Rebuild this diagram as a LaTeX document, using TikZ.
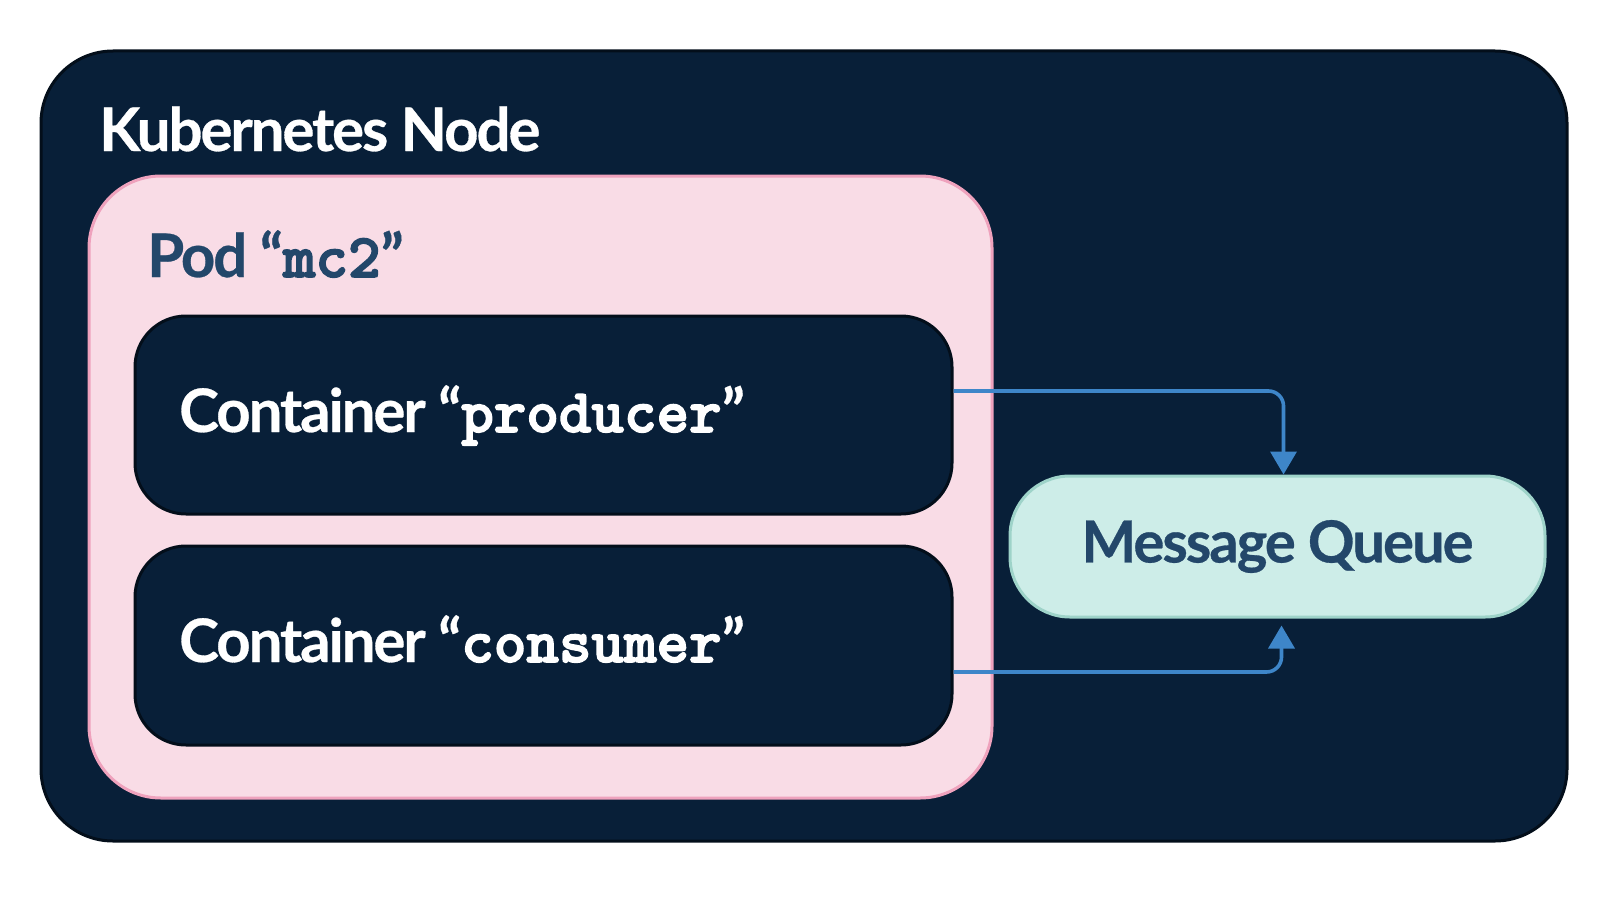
\documentclass[tikz,border=0pt]{standalone}
\usepackage{fontspec}
\setmainfont{Lato}[BoldFont={Lato Bold}]
\newfontfamily\latobold{Lato Bold}[LetterSpace=-3.5, FakeBold=0.5]
\newfontfamily\mtfont{lmmonolt10-bold}[Extension=.otf, FakeBold=2.5]
\usetikzlibrary{arrows.meta}
\definecolor{navy}{HTML}{081F38}
\definecolor{navyedge}{HTML}{030E1A}
\definecolor{podfill}{HTML}{F9DCE6}
\definecolor{podedge}{HTML}{EFA2BD}
\definecolor{mqfill}{HTML}{CDEDE8}
\definecolor{mqedge}{HTML}{9ED3C9}
\definecolor{txtblue}{HTML}{23476A}
\definecolor{arrblue}{HTML}{3E86C9}
\tikzset{
  boxshape/.style={draw, line width=3pt, inner sep=0pt, rectangle},
  navybox/.style={boxshape, fill=navy, draw=navyedge},
  podbox/.style={boxshape, fill=podfill, draw=podedge},
  mqbox/.style={boxshape, fill=mqfill, draw=mqedge, text=txtblue, font=\fontsize{58}{70}\selectfont\latobold},
  label/.style={anchor=base west, inner sep=0pt, font=\fontsize{60}{72}\selectfont\latobold},
  arr/.style={draw=arrblue, line width=3.6pt, rounded corners=15pt, -{Triangle[width=26pt,length=23pt]}, arrblue},
}
\newcommand{\mtt}[1]{{\mtfont\fontsize{62}{72}\selectfont #1}}
\begin{document}
\begin{tikzpicture}[x=1pt,y=-1pt]
\useasboundingbox (0,0) rectangle (1608,899);
\node[navybox, rounded corners=72pt, minimum width=1526pt, minimum height=790pt] (outer) at (804,446) {};
\node[label, text=white] (outerlbl) at (99,151) {Kubernetes Node};
\node[podbox, rounded corners=72pt, minimum width=903pt, minimum height=622pt] (pod) at (540.5,487) {};
\node[label, text=txtblue] (podlbl) at (147,277) {Pod “\mtt{mc2}”};
\node[navybox, rounded corners=51pt, minimum width=817pt, minimum height=198pt] (prod) at (543.5,415) {};
\node[label, text=white] (prodlbl) at (179,432) {Container “\mtt{producer}”};
\node[navybox, rounded corners=51pt, minimum width=817pt, minimum height=199pt] (cons) at (543.5,645.5) {};
\node[label, text=white] (conslbl) at (179,662) {Container “\mtt{consumer}”};
\node[mqbox, rounded corners=60pt, minimum width=535pt, minimum height=141pt] (mq) at (1277.5,546.5) {Message Queue};
\draw[arr] ([yshift=24pt]prod.east) -| ([xshift=6pt]mq.north);
\draw[arr, shorten >=7pt] ([yshift=-26.5pt]cons.east) -| ([xshift=4pt]mq.south);
\end{tikzpicture}
\end{document}
